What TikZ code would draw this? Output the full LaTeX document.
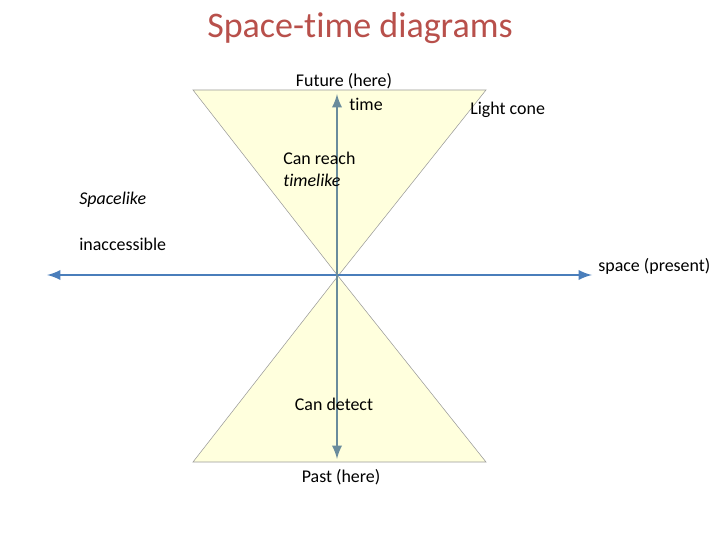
\documentclass[tikz,border=0pt]{standalone}
\usepackage{fontspec}
\setmainfont{Carlito}[Ligatures=NoCommon]
\usepackage{tikz}
\definecolor{conefill}{HTML}{FFFFDD}
\definecolor{spaceaxis}{HTML}{4A7EBB}
\definecolor{timeaxis}{HTML}{6A8C9C}
\definecolor{titlered}{HTML}{B8504B}
\tikzset{
  lbl/.style={font=\fontsize{10.2}{12}\selectfont, inner sep=0pt},
  cone/.style={fill=conefill, draw=gray!80, line width=0.3pt}
}

\begin{document}
\begin{tikzpicture}[x=0.02cm, y=-0.02cm]
    \useasboundingbox (0,0) rectangle (720,540);
    % light cone
    \coordinate (apex) at (338,276);
    \coordinate (futl) at (193,90);
    \coordinate (futr) at (486,90);
    \coordinate (pastl) at (193,462);
    \coordinate (pastr) at (486,462);
    \draw[cone] (futl) -- (futr) -- (apex) -- cycle;
    \draw[cone] (pastl) -- (pastr) -- (apex) -- cycle;
    % axes
    \coordinate (west) at (47,275);
    \coordinate (east) at (592,275);
    \coordinate (up) at (337,94);
    \coordinate (down) at (337,459);
    \draw[spaceaxis, line width=1.6pt, <->, >=latex] (west) -- (east);
    \draw[timeaxis, line width=1.6pt, <->, >=latex] (down) -- (up);
    % labels
    \node[font=\fontsize{20.5}{24}\selectfont, text=titlered] (title) at (360,28) {Space-time diagrams};
    \node[lbl] (future) at (344,81) {Future (here)};
    \node[lbl] (time) at (366,104) {time};
    \node[lbl, anchor=west] (lcone) at (470,110) {Light cone};
    \node[lbl, anchor=west] (reach) at (283,158) {Can reach};
    \node[lbl, anchor=west] (tlike) at (283,180) {\itshape timelike};
    \node[lbl, anchor=west] (slike) at (79,200) {\itshape Spacelike};
    \node[lbl, anchor=west] (inacc) at (79,244) {inaccessible};
    \node[lbl, anchor=west] (space) at (598,266) {space (present)};
    \node[lbl] (detect) at (334,404) {Can detect};
    \node[lbl] (past) at (341,477) {Past (here)};
  \end{tikzpicture}
\end{document}
